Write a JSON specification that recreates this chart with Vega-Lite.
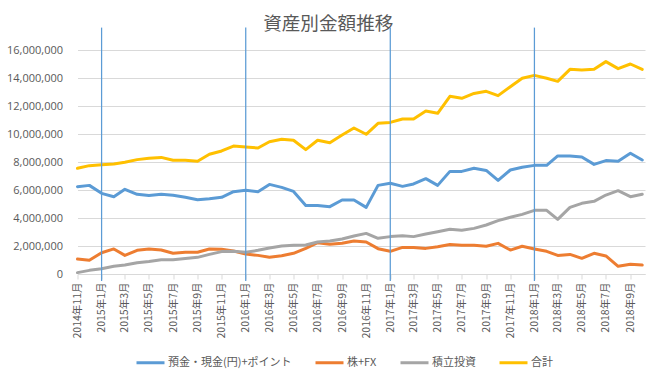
{
  "$schema": "https://vega.github.io/schema/vega-lite/v6.json",
  "width": 567.5,
  "height": 224,
  "autosize": "none",
  "padding": {"left": 77.5, "top": 50, "right": 14, "bottom": 108},
  "background": "white",
  "config": {"view": {"stroke": null}, "font": "Noto Sans CJK JP"},
  "title": {"text": "資産別金額推移", "fontSize": 18.6, "font": "Noto Sans CJK JP", "fontWeight": "normal", "color": "#595959", "anchor": "middle", "frame": "group", "dx": -33, "offset": 0, "baseline": "alphabetic", "dy": 22},
  "resolve": {"scale": {"y": "independent"}, "axis": {"y": "independent"}},
  "layer": [
    {
      "data": {"values": [
        {"date": "2014/11/01", "預金・現金(円)+ポイント": 6240000, "株+FX": 1070000, "積立投資": 100000, "合計": 7550000},
        {"date": "2014/12/01", "預金・現金(円)+ポイント": 6330000, "株+FX": 980000, "積立投資": 260000, "合計": 7740000},
        {"date": "2015/01/01", "預金・現金(円)+ポイント": 5760000, "株+FX": 1520000, "積立投資": 380000, "合計": 7810000},
        {"date": "2015/02/01", "預金・現金(円)+ポイント": 5520000, "株+FX": 1790000, "積立投資": 550000, "合計": 7860000},
        {"date": "2015/03/01", "預金・現金(円)+ポイント": 6050000, "株+FX": 1330000, "積立投資": 640000, "合計": 7980000},
        {"date": "2015/04/01", "預金・現金(円)+ポイント": 5690000, "株+FX": 1690000, "積立投資": 810000, "合計": 8170000},
        {"date": "2015/05/01", "預金・現金(円)+ポイント": 5600000, "株+FX": 1790000, "積立投資": 900000, "合計": 8260000},
        {"date": "2015/06/01", "預金・現金(円)+ポイント": 5690000, "株+FX": 1710000, "積立投資": 1020000, "合計": 8330000},
        {"date": "2015/07/01", "預金・現金(円)+ポイント": 5620000, "株+FX": 1480000, "積立投資": 1020000, "合計": 8120000},
        {"date": "2015/08/01", "預金・現金(円)+ポイント": 5480000, "株+FX": 1550000, "積立投資": 1100000, "合計": 8120000},
        {"date": "2015/09/01", "預金・現金(円)+ポイント": 5310000, "株+FX": 1550000, "積立投資": 1190000, "合計": 8050000},
        {"date": "2015/10/01", "預金・現金(円)+ポイント": 5380000, "株+FX": 1790000, "積立投資": 1400000, "合計": 8550000},
        {"date": "2015/11/01", "預金・現金(円)+ポイント": 5480000, "株+FX": 1760000, "積立投資": 1600000, "合計": 8790000},
        {"date": "2015/12/01", "預金・現金(円)+ポイント": 5880000, "株+FX": 1640000, "積立投資": 1620000, "合計": 9140000},
        {"date": "2016/01/01", "預金・現金(円)+ポイント": 5980000, "株+FX": 1430000, "積立投資": 1550000, "合計": 9070000},
        {"date": "2016/02/01", "預金・現金(円)+ポイント": 5880000, "株+FX": 1330000, "積立投資": 1690000, "合計": 9000000},
        {"date": "2016/03/01", "預金・現金(円)+ポイント": 6400000, "株+FX": 1190000, "積立投資": 1860000, "合計": 9450000},
        {"date": "2016/04/01", "預金・現金(円)+ポイント": 6190000, "株+FX": 1310000, "積立投資": 2000000, "合計": 9620000},
        {"date": "2016/05/01", "預金・現金(円)+ポイント": 5900000, "株+FX": 1480000, "積立投資": 2050000, "合計": 9550000},
        {"date": "2016/06/01", "預金・現金(円)+ポイント": 4900000, "株+FX": 1830000, "積立投資": 2070000, "合計": 8880000},
        {"date": "2016/07/01", "預金・現金(円)+ポイント": 4900000, "株+FX": 2240000, "積立投資": 2290000, "合計": 9550000},
        {"date": "2016/08/01", "預金・現金(円)+ポイント": 4810000, "株+FX": 2120000, "積立投資": 2360000, "合計": 9380000},
        {"date": "2016/09/01", "預金・現金(円)+ポイント": 5290000, "株+FX": 2190000, "積立投資": 2500000, "合計": 9930000},
        {"date": "2016/10/01", "預金・現金(円)+ポイント": 5290000, "株+FX": 2360000, "積立投資": 2710000, "合計": 10430000},
        {"date": "2016/11/01", "預金・現金(円)+ポイント": 4760000, "株+FX": 2290000, "積立投資": 2900000, "合計": 9980000},
        {"date": "2016/12/01", "預金・現金(円)+ポイント": 6330000, "株+FX": 1810000, "積立投資": 2550000, "合計": 10760000},
        {"date": "2017/01/01", "預金・現金(円)+ポイント": 6480000, "株+FX": 1620000, "積立投資": 2670000, "合計": 10830000},
        {"date": "2017/02/01", "預金・現金(円)+ポイント": 6260000, "株+FX": 1900000, "積立投資": 2740000, "合計": 11070000},
        {"date": "2017/03/01", "預金・現金(円)+ポイント": 6430000, "株+FX": 1900000, "積立投資": 2670000, "合計": 11070000},
        {"date": "2017/04/01", "預金・現金(円)+ポイント": 6810000, "株+FX": 1830000, "積立投資": 2860000, "合計": 11640000},
        {"date": "2017/05/01", "預金・現金(円)+ポイント": 6330000, "株+FX": 1950000, "積立投資": 3020000, "合計": 11480000},
        {"date": "2017/06/01", "預金・現金(円)+ポイント": 7330000, "株+FX": 2100000, "積立投資": 3190000, "合計": 12690000},
        {"date": "2017/07/01", "預金・現金(円)+ポイント": 7330000, "株+FX": 2050000, "積立投資": 3120000, "合計": 12550000},
        {"date": "2017/08/01", "預金・現金(円)+ポイント": 7550000, "株+FX": 2050000, "積立投資": 3260000, "合計": 12900000},
        {"date": "2017/09/01", "預金・現金(円)+ポイント": 7400000, "株+FX": 1980000, "積立投資": 3500000, "合計": 13050000},
        {"date": "2017/10/01", "預金・現金(円)+ポイント": 6690000, "株+FX": 2190000, "積立投資": 3810000, "合計": 12740000},
        {"date": "2017/11/01", "預金・現金(円)+ポイント": 7430000, "株+FX": 1710000, "積立投資": 4050000, "合計": 13380000},
        {"date": "2017/12/01", "預金・現金(円)+ポイント": 7620000, "株+FX": 1980000, "積立投資": 4260000, "合計": 13980000},
        {"date": "2018/01/01", "預金・現金(円)+ポイント": 7760000, "株+FX": 1790000, "積立投資": 4550000, "合計": 14190000},
        {"date": "2018/02/01", "預金・現金(円)+ポイント": 7760000, "株+FX": 1620000, "積立投資": 4550000, "合計": 13980000},
        {"date": "2018/03/01", "預金・現金(円)+ポイント": 8430000, "株+FX": 1330000, "積立投資": 3900000, "合計": 13760000},
        {"date": "2018/04/01", "預金・現金(円)+ポイント": 8430000, "株+FX": 1400000, "積立投資": 4760000, "合計": 14620000},
        {"date": "2018/05/01", "預金・現金(円)+ポイント": 8360000, "株+FX": 1120000, "積立投資": 5050000, "合計": 14570000},
        {"date": "2018/06/01", "預金・現金(円)+ポイント": 7830000, "株+FX": 1480000, "積立投資": 5190000, "合計": 14620000},
        {"date": "2018/07/01", "預金・現金(円)+ポイント": 8100000, "株+FX": 1290000, "積立投資": 5640000, "合計": 15170000},
        {"date": "2018/08/01", "預金・現金(円)+ポイント": 8050000, "株+FX": 550000, "積立投資": 5950000, "合計": 14670000},
        {"date": "2018/09/01", "預金・現金(円)+ポイント": 8620000, "株+FX": 690000, "積立投資": 5520000, "合計": 15000000},
        {"date": "2018/10/01", "預金・現金(円)+ポイント": 8140000, "株+FX": 640000, "積立投資": 5690000, "合計": 14620000}
      ]},
      "transform": [{"fold": ["預金・現金(円)+ポイント", "株+FX", "積立投資", "合計"], "as": ["系列", "金額"]}],
      "mark": {"type": "line", "strokeWidth": 3, "strokeJoin": "round", "strokeCap": "round"},
      "encoding": {
        "x": {
          "field": "date", "type": "temporal",
          "scale": {"domain": [{"year": 2014, "month": 11, "date": 1}, {"year": 2018, "month": 10, "date": 8}], "nice": false},
          "axis": {"title": null, "tickCount": {"interval": "month", "step": 2}, "format": "%Y年%-m月", "labelAngle": -90, "labelFontSize": 10.5, "labelColor": "#595959", "domainColor": "#d9d9d9", "tickColor": "#d9d9d9", "tickSize": 5, "grid": false, "labelPadding": 3, "labelOverlap": false, "labelFlush": false, "labelBound": false}
        },
        "y": {
          "field": "金額", "type": "quantitative",
          "scale": {"domain": [0, 16000000], "nice": false},
          "axis": {"title": null, "format": ",d", "values": [0, 2000000, 4000000, 6000000, 8000000, 10000000, 12000000, 14000000, 16000000], "grid": true, "gridColor": "#d9d9d9", "domain": false, "ticks": false, "labelPadding": 15, "labelFont": "Open Sans", "labelFontSize": 11, "labelColor": "#595959", "labelOverlap": false, "labelFlush": false, "labelBound": false}
        },
        "color": {
          "field": "系列", "type": "nominal",
          "scale": {"domain": ["預金・現金(円)+ポイント", "株+FX", "積立投資", "合計"], "range": ["#5B9BD5", "#ED7D31", "#A5A5A5", "#FFC000"]},
          "legend": {"title": null, "orient": "none", "legendX": 57.5, "legendY": 297, "direction": "horizontal", "symbolType": "stroke", "symbolSize": 784, "symbolStrokeWidth": 3, "labelFontSize": 11, "labelColor": "#595959", "columnPadding": 17, "labelOffset": 2}
        }
      }
    },
    {
      "data": {"values": [
        {"date": "2015/01/01", "top": 17600000, "bottom": -500000},
        {"date": "2016/01/01", "top": 17600000, "bottom": -500000},
        {"date": "2017/01/01", "top": 17600000, "bottom": -500000},
        {"date": "2018/01/01", "top": 17600000, "bottom": -500000}
      ]},
      "mark": {"type": "rule", "color": "#5B9BD5", "strokeWidth": 1.25},
      "encoding": {
        "x": {"field": "date", "type": "temporal"},
        "y": {"field": "top", "type": "quantitative", "scale": {"domain": [0, 16000000], "nice": false}, "axis": null},
        "y2": {"field": "bottom"}
      }
    }
  ]
}
